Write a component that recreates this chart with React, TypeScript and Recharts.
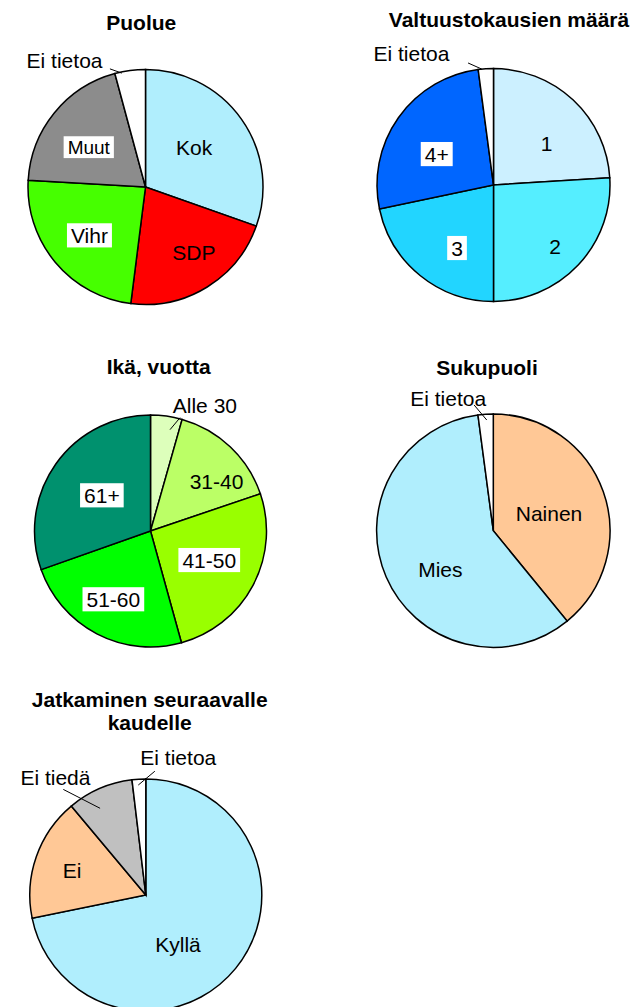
import { PieChart, Pie, Cell } from "recharts";

const FONT = '"Liberation Sans", Arial, Helvetica, sans-serif';

// Puolue
const puolueNames = ["Kok", "SDP", "Vihr", "Muut", "Ei tietoa"];
const puolueValues = [30.4, 21.6, 23.9, 19.9, 4.2];
const puolueColors = ["#B0EEFD", "#FF0000", "#46FF00", "#8C8C8C", "#FFFFFF"];

// Valtuustokausien määrä
const kausiNames = ["1", "2", "3", "4+", "Ei tietoa"];
const kausiValues = [24.0, 26.0, 21.7, 26.2, 2.1];
const kausiColors = ["#CCF0FF", "#55EEFF", "#22D5FF", "#0066FF", "#FFFFFF"];

// Ikä, vuotta
const ikaNames = ["Alle 30", "31-40", "41-50", "51-60", "61+"];
const ikaValues = [4.4, 15.4, 25.9, 23.9, 30.4];
const ikaColors = ["#DDFFBB", "#BBFF66", "#99FF00", "#00FF00", "#00916E"];

// Sukupuoli
const sukupuoliNames = ["Nainen", "Mies", "Ei tietoa"];
const sukupuoliValues = [39.1, 58.8, 2.1];
const sukupuoliColors = ["#FFC896", "#B0EEFD", "#FFFFFF"];

// Jatkaminen seuraavalle kaudelle
const jatkoNames = ["Kyllä", "Ei", "Ei tiedä", "Ei tietoa"];
const jatkoValues = [71.8, 17.1, 9.2, 1.9];
const jatkoColors = ["#B0EEFD", "#FFC896", "#C0C0C0", "#FFFFFF"];

// label placement: angle offset from slice middle (deg, clockwise), radius ratio
type LabelSpec = { da: number; r: number; box?: boolean; size?: number; leader?: number[] };

const puolueLabels: LabelSpec[] = [
  { da: -4, r: 0.535 },
  { da: -5, r: 0.69 },
  { da: -1, r: 0.63, box: true },
  { da: -4, r: 0.59, box: true, size: 19 },
  { da: -25, r: 1.28, leader: [-4.2, 0.99, -9.2, 1.05] },
];
const kausiLabels: LabelSpec[] = [
  { da: 8.7, r: 0.58 },
  { da: 2, r: 0.75 },
  { da: -9, r: 0.625, box: true },
  { da: -6.7, r: 0.555, box: true },
  { da: -28.2, r: 1.33, leader: [-2, 1.0, -8, 1.07] },
];
const ikaLabels: LabelSpec[] = [
  { da: 15.5, r: 1.18, leader: [3, 0.89, 6.7, 1.01] },
  { da: 9.7, r: 0.71 },
  { da: -1.6, r: 0.565, box: true },
  { da: 1, r: 0.67, box: true },
  { da: 1, r: 0.52, box: true },
];
const sukupuoliLabels: LabelSpec[] = [
  { da: 2.3, r: 0.5 },
  { da: -12.5, r: 0.56 },
  { da: -15, r: 1.2, leader: [0.4, 0.95, -4.9, 1.09] },
];
const jatkoLabels: LabelSpec[] = [
  { da: 17.8, r: 0.51 },
  { da: -0.6, r: 0.67 },
  { da: -14.1, r: 1.28, leader: [-4.4, 0.845, -14.6, 1.155] },
  { da: 16.7, r: 1.22, leader: [-0.5, 0.95, 7.6, 1.07] },
];

let ctx: CanvasRenderingContext2D | null = null;
function textWidth(t: string, size: number) {
  if (!ctx) ctx = document.createElement("canvas").getContext("2d");
  if (!ctx) return t.length * size * 0.55;
  ctx.font = `${size}px ${FONT}`;
  return ctx.measureText(t).width;
}

function makeLabel(names: string[], specs: LabelSpec[]) {
  return (p: any) => {
    const s = specs[p.index];
    const R = p.outerRadius;
    const theta = 90 - p.midAngle;
    const pt = (da: number, r: number) => {
      const a = ((theta + da) * Math.PI) / 180;
      return [p.cx + r * R * Math.sin(a), p.cy - r * R * Math.cos(a)];
    };
    const [x, y] = pt(s.da, s.r);
    const size = s.size ?? 21;
    const text = names[p.index];
    const w = textWidth(text, size) + 8;
    const h = size * 1.15;
    let line = null;
    if (s.leader) {
      const [x1, y1] = pt(s.leader[0], s.leader[1]);
      const [x2, y2] = pt(s.leader[2], s.leader[3]);
      line = <line x1={x1} y1={y1} x2={x2} y2={y2} stroke="#000" strokeWidth={1} />;
    }
    return (
      <g key={`l-${p.index}`}>
        {line}
        {s.box && <rect x={x - w / 2} y={y - h / 2} width={w} height={h} fill="#fff" />}
        <text x={x} y={y} textAnchor="middle" dominantBaseline="central" fontSize={size} fontFamily={FONT} fill="#000">
          {text}
        </text>
      </g>
    );
  };
}

const toData = (names: string[], values: number[]) => names.map((name, i) => ({ name, value: values[i] }));

const charts = [
  { names: puolueNames, values: puolueValues, colors: puolueColors, labels: puolueLabels, cx: 145.5, cy: 187, r: 117.5 },
  { names: kausiNames, values: kausiValues, colors: kausiColors, labels: kausiLabels, cx: 493.5, cy: 185, r: 116.5 },
  { names: ikaNames, values: ikaValues, colors: ikaColors, labels: ikaLabels, cx: 150.5, cy: 531, r: 116 },
  { names: sukupuoliNames, values: sukupuoliValues, colors: sukupuoliColors, labels: sukupuoliLabels, cx: 493.3, cy: 530.7, r: 116.7 },
  { names: jatkoNames, values: jatkoValues, colors: jatkoColors, labels: jatkoLabels, cx: 145.8, cy: 895, r: 116 },
];

const titles = [
  { text: "Puolue", x: 141.3, y: 30 },
  { text: "Valtuustokausien määrä", x: 509, y: 26.5 },
  { text: "Ikä, vuotta", x: 158.7, y: 374 },
  { text: "Sukupuoli", x: 487, y: 375 },
  { text: "Jatkaminen seuraavalle", x: 149.7, y: 706.5 },
  { text: "kaudelle", x: 149.7, y: 730 },
];

export default function App() {
  return (
    <div style={{ position: "absolute", left: 0, top: 0, width: 641, height: 1007, background: "#fff" }}>
      <PieChart width={641} height={1007} margin={{ top: 0, right: 0, bottom: 0, left: 0 }}>
        {charts.map((c, k) => (
          <Pie
            key={k}
            data={toData(c.names, c.values)}
            dataKey="value"
            nameKey="name"
            cx={c.cx}
            cy={c.cy}
            outerRadius={c.r}
            startAngle={90}
            endAngle={-270}
            stroke="#000"
            strokeWidth={1.5}
            isAnimationActive={false}
            labelLine={false}
            label={makeLabel(c.names, c.labels)}
          >
            {c.names.map((n, i) => (
              <Cell key={n} fill={c.colors[i]} />
            ))}
          </Pie>
        ))}
      </PieChart>
      <svg width={641} height={1007} style={{ position: "absolute", left: 0, top: 0, pointerEvents: "none" }}>
        {titles.map((t) => (
          <text key={t.text} x={t.x} y={t.y} textAnchor="middle" fontSize={21} fontWeight="bold" fontFamily={FONT} fill="#000">
            {t.text}
          </text>
        ))}
      </svg>
    </div>
  );
}
